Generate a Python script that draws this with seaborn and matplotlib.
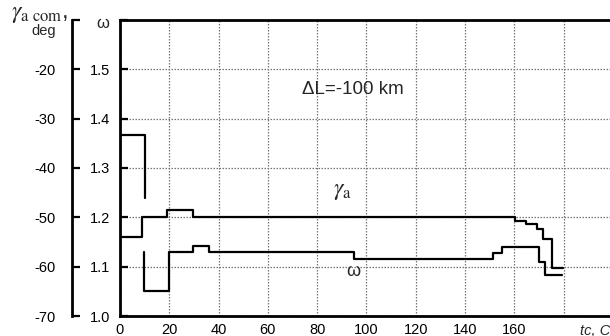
import matplotlib
matplotlib.use("Agg")
import matplotlib.pyplot as plt
import seaborn as sns
import pandas as pd

# ---- data ----
# gamma_a (deg), step-post
gamma_t = [0, 8.9, 18.9, 29.5, 160.2, 164.7, 169.3, 171.7, 175.4, 179.8]
gamma_v = [-54.0, -50.0, -48.6, -50.0, -50.7, -51.3, -52.4, -54.4, -60.2, -60.2]
# gamma_a com (deg)
gcom_t = [0, 10.3, 10.3]
gcom_v = [-33.4, -33.4, -46.1]
# omega, step-post
omega_t = [9.6, 9.6, 19.9, 29.5, 36.0, 94.9, 151.2, 154.8, 170.1, 172.6, 179.2]
omega_v = [1.130, 1.051, 1.129, 1.142, 1.129, 1.116, 1.128, 1.139, 1.110, 1.083, 1.083]

x_ticks = [0, 20, 40, 60, 80, 100, 120, 140, 160, 180]
x_labels = ["0", "20", "40", "60", "80", "100", "120", "140", "160", ""]
w_ticks = [1.0, 1.1, 1.2, 1.3, 1.4, 1.5, 1.6]
w_labels = ["1.0", "1.1", "1.2", "1.3", "1.4", "1.5", ""]
g_ticks = [-70, -60, -50, -40, -30, -20, -10]
g_labels = ["-70", "-60", "-50", "-40", "-30", "-20", ""]

sns.set_style("white")
plt.rcParams["font.family"] = ["Liberation Sans", "DejaVu Sans"]
plt.rcParams["mathtext.fontset"] = "stix"

W, H = 610, 336
fig = plt.figure(figsize=(W / 100, H / 100), dpi=100)
ax = fig.add_axes([120 / W, 20 / H, (W - 120) / W, 296 / H])
ax.set_xlim(0, 198.8)
ax.set_ylim(1.0, 1.6)

ax.set_xticks(x_ticks)
ax.set_xticklabels(x_labels)
ax.set_yticks(w_ticks)
ax.set_yticklabels(w_labels)
ax.grid(True, color="#777777", linestyle=(0, (1.2, 1.2)), linewidth=0.9)
ax.set_axisbelow(True)
for s in ["left", "bottom", "top"]:
    ax.spines[s].set_linewidth(2.0)
    ax.spines[s].set_color("black")
ax.spines["right"].set_visible(False)
ax.tick_params(axis="y", direction="in", length=6, width=1.6, labelsize=10.5, pad=7, colors="black")
ax.tick_params(axis="x", direction="in", length=5, width=1.6, labelsize=10.5, pad=5, colors="black")

df_w = pd.DataFrame({"t": omega_t, "w": omega_v})
sns.lineplot(data=df_w, x="t", y="w", ax=ax, color="black", linewidth=1.6,
             drawstyle="steps-post", sort=False, estimator=None)
ax.set_xlabel("")
ax.set_ylabel("")

ax2 = ax.twinx()
ax2.set_ylim(-70, -10)
df_g = pd.DataFrame({"t": gamma_t, "g": gamma_v})
sns.lineplot(data=df_g, x="t", y="g", ax=ax2, color="black", linewidth=1.6,
             drawstyle="steps-post", sort=False, estimator=None)
df_c = pd.DataFrame({"t": gcom_t, "g": gcom_v})
sns.lineplot(data=df_c, x="t", y="g", ax=ax2, color="black", linewidth=1.6,
             sort=False, estimator=None)
ax2.set_xlim(0, 198.8)
ax2.set_ylim(-70, -10)
ax2.set_xlabel("")
ax2.set_ylabel("")
ax2.yaxis.tick_left()
ax2.set_yticks(g_ticks)
ax2.set_yticklabels(g_labels)
for s in ["right", "top", "bottom"]:
    ax2.spines[s].set_visible(False)
ax2.spines["left"].set_position(("outward", 48 * 0.72))
ax2.spines["left"].set_linewidth(2.0)
ax2.spines["left"].set_color("black")
ax2.tick_params(axis="y", direction="in", length=6, width=1.6, labelsize=10.5, pad=12, colors="black")

# annotations
ax.text(94.5, 1.459, "ΔL=-100 km", ha="center", va="center", fontsize=13.5)
ax.text(86.4, 1.254, r"$\gamma_{\mathrm{a}}$", ha="left", va="center", fontsize=17)
ax.text(94.5, 1.09, "ω", ha="center", va="center", fontsize=13)

fig.text(103 / W, 1 - 23 / H, "ω", ha="center", va="center", fontsize=12)
fig.text(11 / W, 1 - 18 / H, r"$\gamma_{\mathrm{a\ com}}$,", ha="left", va="baseline", fontsize=17)
fig.text(44 / W, 1 - 31 / H, "deg", ha="center", va="center", fontsize=10.5)
fig.text(580 / W, 1 - 331 / H, "tc, C", ha="left", va="center", fontsize=10.5, style="italic")

fig.savefig("out.png", dpi=100)
